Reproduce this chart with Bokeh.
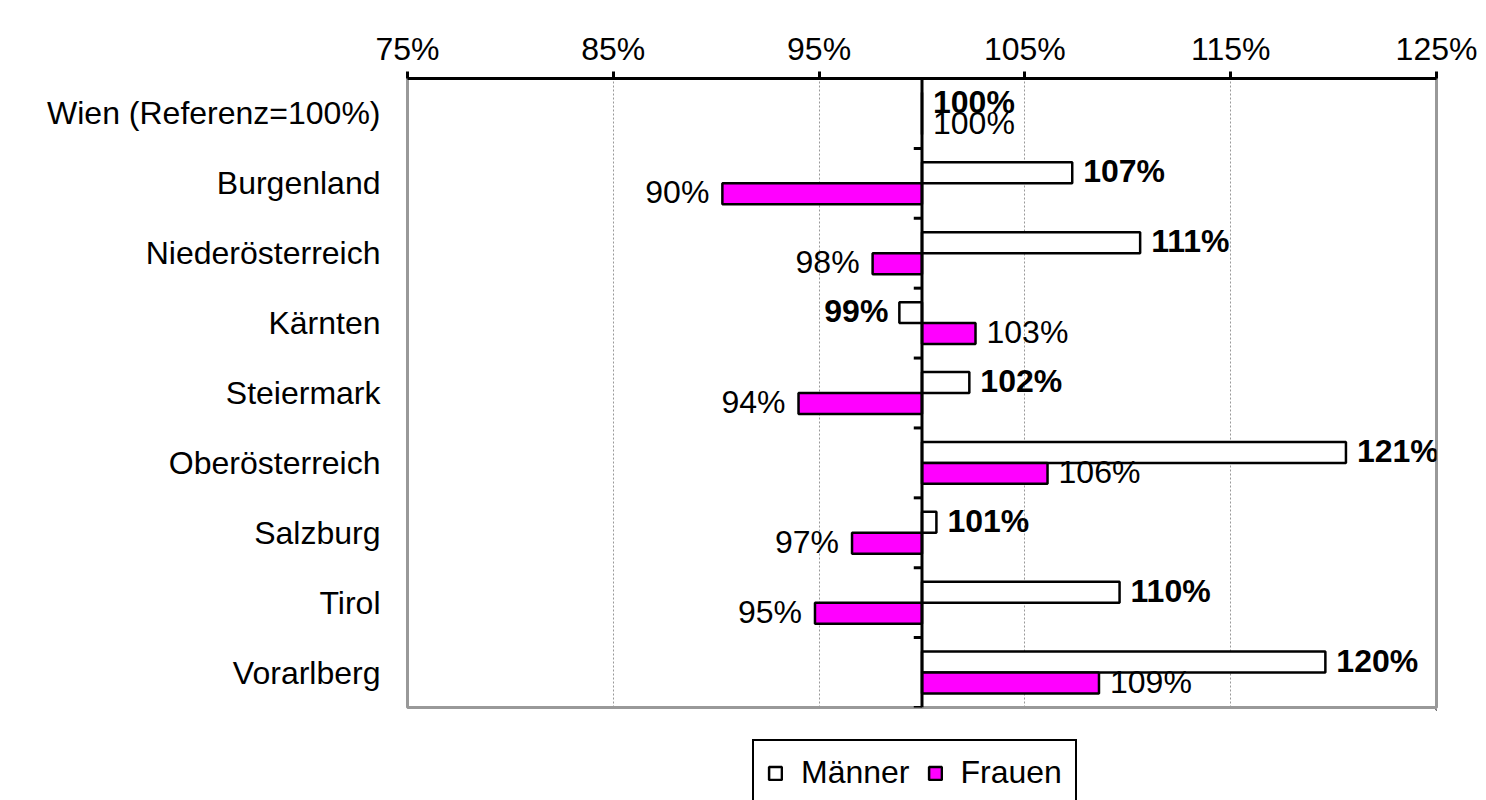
from bokeh.plotting import figure
from bokeh.layouts import column
from bokeh.models import (FactorRange, Range1d, Span, FixedTicker, PrintfTickFormatter,
                          ColumnDataSource, Legend, LegendItem)
from bokeh.transform import dodge
from bokeh.core.properties import value
from bokeh.embed import file_html
from bokeh.resources import INLINE

# ---- data ----
categories = ["Wien (Referenz=100%)", "Burgenland", "Niederösterreich", "Kärnten",
              "Steiermark", "Oberösterreich", "Salzburg", "Tirol", "Vorarlberg"]
maenner = [100, 107.3, 110.6, 98.9, 102.3, 120.6, 100.7, 109.6, 119.6]
frauen = [100, 90.3, 97.6, 102.6, 94.0, 106.1, 96.6, 94.8, 108.6]
x_ticks = [75, 85, 95, 105, 115, 125]
reference = 100
series_names = ["Männer", "Frauen"]

FONT = "Liberation Sans"
FS = "32px"
MAGENTA = "#FF00FF"
M_STYLE = dict(fill_color="white", line_color="black", line_width=2.5)
F_STYLE = dict(fill_color=MAGENTA, line_color="black", line_width=2.5)


def lab(v):
    return f"{round(v):d}%"


src = ColumnDataSource(dict(
    cat=categories,
    m=maenner,
    f=frauen,
    m_label=[lab(v) for v in maenner],
    f_label=[lab(v) for v in frauen],
    m_align=["right" if v < reference else "left" for v in maenner],
    f_align=["right" if v < reference else "left" for v in frauen],
    m_off=[-11 if v < reference else 11 for v in maenner],
    f_off=[-13 if v < reference else 11 for v in frauen],
))

p = figure(width=1486, height=709, output_backend="svg", toolbar_location=None,
           x_range=Range1d(x_ticks[0], x_ticks[-1]),
           y_range=FactorRange(*reversed(categories)),
           x_axis_location="above",
           min_border_left=407, min_border_right=50, min_border_top=78, min_border_bottom=2)

p.background_fill_color = "white"
p.border_fill_color = "white"
p.outline_line_color = "#999999"
p.outline_line_width = 3

# x axis (top)
xa = p.xaxis[0]
xa.ticker = FixedTicker(ticks=x_ticks)
xa.formatter = PrintfTickFormatter(format="%d%%")
xa.axis_line_width = 3
xa.axis_line_color = "black"
xa.major_tick_line_width = 3
xa.major_tick_line_color = "black"
xa.major_tick_out = 7
xa.major_tick_in = 0
xa.minor_tick_line_color = None
xa.major_label_text_font = FONT
xa.major_label_text_font_size = FS
xa.major_label_text_color = "black"
xa.major_label_standoff = 5

# y axis (category labels on the left)
ya = p.yaxis[0]
ya.axis_line_color = None
ya.major_tick_line_color = None
ya.minor_tick_line_color = None
ya.major_label_text_font = FONT
ya.major_label_text_font_size = FS
ya.major_label_text_color = "black"
ya.major_label_standoff = 21

p.xgrid.ticker = FixedTicker(ticks=x_ticks)
p.xgrid.grid_line_color = "#999999"
p.xgrid.grid_line_dash = "2 2"
p.xgrid.grid_line_width = 1
p.ygrid.grid_line_color = None

# bars
p.hbar(y=dodge("cat", 0.15, range=p.y_range), left=reference, right="m", height=0.3,
       source=src, **M_STYLE)
p.hbar(y=dodge("cat", -0.15, range=p.y_range), left=reference, right="f", height=0.3,
       source=src, **F_STYLE)

# reference line with category tick marks
p.add_layout(Span(location=reference, dimension="height", line_color="black", line_width=3))
bounds = list(range(0, len(categories)))
p.segment(x0=[reference - 0.4] * len(bounds), x1=[reference] * len(bounds),
          y0=bounds, y1=bounds, line_color="black", line_width=3)

# labels
p.text(x="m", y=dodge("cat", 0.17, range=p.y_range), text="m_label", text_align="m_align",
       x_offset="m_off", text_baseline="middle", text_font=value(FONT), text_font_size=FS,
       text_font_style="bold", text_color="black", source=src)
p.text(x="f", y=dodge("cat", -0.13, range=p.y_range), text="f_label", text_align="f_align",
       x_offset="f_off", text_baseline="middle", text_font=value(FONT), text_font_size=FS,
       text_color="black", source=src)

# ---- legend strip below the chart ----
lf = figure(width=1486, height=91, output_backend="svg", toolbar_location=None,
            x_range=Range1d(0, 1), y_range=Range1d(0, 1),
            min_border_left=0, min_border_right=0,
            min_border_top=0, min_border_bottom=0)
lf.axis.visible = False
lf.grid.visible = False
lf.outline_line_color = None
lf.background_fill_color = "white"
lf.border_fill_color = "white"
# swatch renderers placed far outside the visible area; only their legend glyphs show
swatch = ColumnDataSource(dict(y=[50], left=[50], right=[51]))
lm = lf.hbar(y="y", left="left", right="right", height=0.1, source=swatch, **M_STYLE)
lw = lf.hbar(y="y", left="left", right="right", height=0.1, source=swatch, **F_STYLE)

legend = Legend(items=[LegendItem(label=series_names[0], renderers=[lm]),
                       LegendItem(label=series_names[1], renderers=[lw])],
                orientation="horizontal", location=(345, -6),
                label_text_font=FONT, label_text_font_size=FS, label_text_color="black",
                glyph_width=16, glyph_height=16, label_standoff=18, spacing=17,
                padding=13, margin=0, border_line_color="black", border_line_width=2,
                border_line_alpha=1.0, background_fill_alpha=1.0, label_height=37)
lf.add_layout(legend, "center")

layout = column(p, lf, spacing=0)
open("out.html", "w").write(file_html(layout, INLINE))
